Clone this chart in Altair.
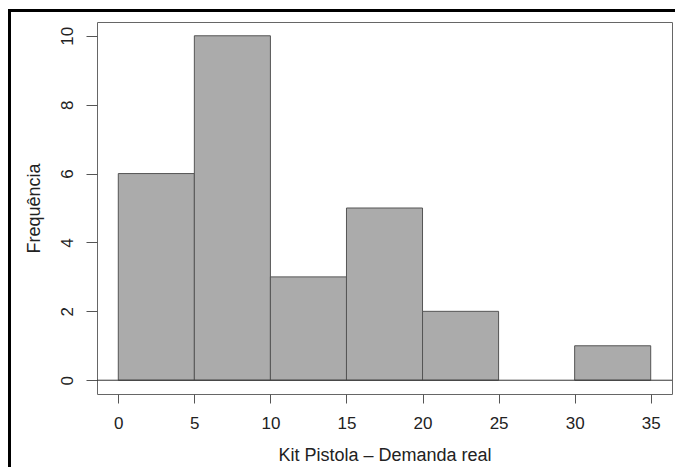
import altair as alt
import pandas as pd

bin_start = [0, 5, 10, 15, 20, 25, 30]
bin_end = [5, 10, 15, 20, 25, 30, 35]
counts = [6, 10, 3, 5, 2, 0, 1]
x_ticks = [0, 5, 10, 15, 20, 25, 30, 35]
y_ticks = [0, 2, 4, 6, 8, 10]

df = pd.DataFrame({"start": bin_start, "end": bin_end, "count": counts})
df = df[df["count"] > 0]

FONT = "Liberation Sans"
W, H = 575, 372

xscale = alt.Scale(domain=[-1.4, 36.4], nice=False, zero=False)
yscale = alt.Scale(domain=[-0.4, 10.4], nice=False, zero=False)

bars = alt.Chart(df).mark_rect(fill="#ababab", stroke="#555555", strokeWidth=1).encode(
    x=alt.X("start:Q", scale=xscale,
            axis=alt.Axis(values=x_ticks, domain=False, grid=False, tickSize=9,
                          tickColor="#555555", labelFont=FONT, labelFontSize=17,
                          labelColor="#222222", labelBaseline="alphabetic",
                          labelPadding=25, labelFlush=False,
                          title="Kit Pistola – Demanda real", titleFont=FONT,
                          titleFontSize=18, titleFontWeight="normal",
                          titleColor="#222222", titleBaseline="alphabetic",
                          titleY=66)),
    x2="end:Q",
    y=alt.Y("count:Q", scale=yscale,
            axis=alt.Axis(values=y_ticks, domain=False, grid=False, tickSize=11,
                          tickColor="#555555", labelFont=FONT, labelFontSize=17,
                          labelColor="#222222", labelAngle=270, labelAlign="center",
                          labelBaseline="alphabetic", labelPadding=14,
                          labelFlush=False,
                          title="Frequência", titleFont=FONT, titleFontSize=18,
                          titleFontWeight="normal", titleColor="#222222",
                          titleBaseline="alphabetic", titleX=-58)),
    y2=alt.datum(0),
)

zero_line = alt.Chart(pd.DataFrame({"y": [0]})).mark_rule(color="#333333", strokeWidth=1).encode(
    y=alt.Y("y:Q", scale=yscale)
)

border_left = alt.Chart(pd.DataFrame({"a": [0]})).mark_rule(color="black", strokeWidth=3).encode(
    x=alt.value(-87.5), y=alt.value(-13), y2=alt.value(445)
)
border_top = alt.Chart(pd.DataFrame({"a": [0]})).mark_rule(color="black", strokeWidth=3).encode(
    y=alt.value(-11.5), x=alt.value(-89), x2=alt.value(590)
)

chart = alt.layer(bars, zero_line, border_left, border_top).properties(
    width=W, height=H,
    padding={"left": 89, "top": 14, "right": 3, "bottom": 73},
    autosize=alt.AutoSizeParams(type="none"),
    background="white",
).configure_view(stroke="#666666", strokeWidth=1)

chart.save("out.html", embed_options={"renderer": "svg", "actions": False})
